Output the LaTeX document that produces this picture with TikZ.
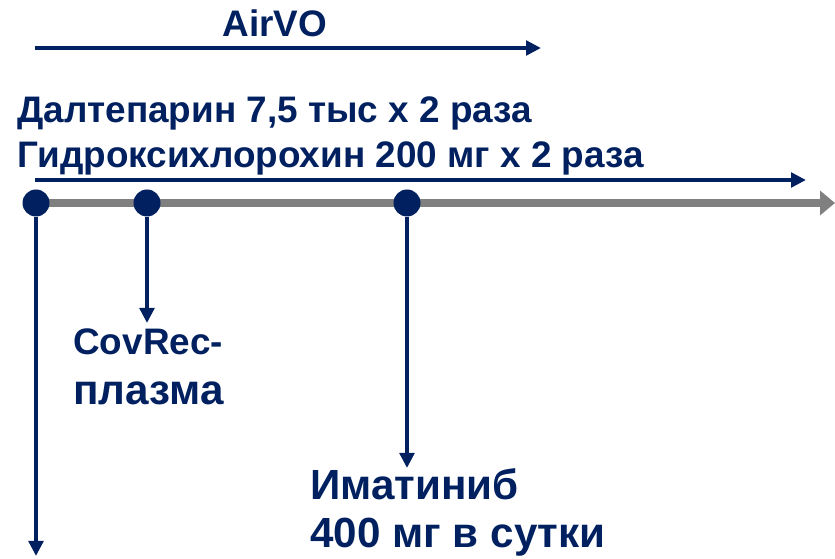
\documentclass[tikz,border=0pt]{standalone}
\usepackage{fontspec}
\setmainfont{Liberation Sans}
\usetikzlibrary{positioning,arrows.meta}
\definecolor{navy}{RGB}{0,32,96}
\definecolor{axisgray}{RGB}{128,128,128}

\begin{document}
\begin{tikzpicture}[
  font=\bfseries,
  navyarr/.style={draw=navy, line width=2.6pt, -{Triangle[length=0.3cm, width=0.29cm]}},
  axisarr/.style={draw=axisgray, line width=4.5pt, -{Triangle[length=0.3cm, width=0.48cm]}},
  dot/.style={circle, fill=navy, inner sep=0pt, minimum size=0.54cm},
  lbl/.style={anchor=base west, text=navy, inner sep=0pt, font=\bfseries\fontsize{21}{25}\selectfont},
  biglbl/.style={lbl, font=\bfseries\fontsize{24}{28}\selectfont},
]
\useasboundingbox (0,0) rectangle (16.7,-11.18);

% ---- AirVO ----
\node[lbl, anchor=base] (air) at (5.5,-0.74) {AirVO};
\coordinate (airS) at (0.7,-0.96);
\coordinate (airE) at (10.82,-0.96);
\draw[navyarr] (airS) -- (airE);

% ---- drugs over the whole period ----
\node[lbl] (dalt) at (0.34,-2.46) {Далтепарин 7,5 тыс х 2 раза};
\node[lbl] (hcq) at (0.34,-3.36) {Гидроксихлорохин 200 мг х 2 раза};
\coordinate (drS) at (0.7,-3.6);
\coordinate (drE) at (16.12,-3.6);
\draw[navyarr] (drS) -- (drE);

% ---- time axis ----
\coordinate (axS) at (0.7,-4.06);
\coordinate (axE) at (16.7,-4.06);
\draw[axisarr] (axS) -- (axE);

\node[dot] (d1) at (0.72,-4.06) {};
\node[dot] (d2) at (2.94,-4.06) {};
\node[dot] (d3) at (8.14,-4.06) {};

% ---- events ----
\coordinate (e1) at (0.72,-11.12);
\coordinate (e2) at (2.94,-6.46);
\coordinate (e3) at (8.14,-9.36);
\draw[navyarr] (d1) -- (e1);
\draw[navyarr] (d2) -- (e2);
\draw[navyarr] (d3) -- (e3);

\node[lbl] (covrec) at (1.46,-7.1) {CovRec-};
\node[biglbl] (plasma) at (1.46,-8.1) {плазма};
\node[biglbl] (imat) at (6.2,-10.0) {Иматиниб};
\node[biglbl] (dose) at (6.2,-10.96) {400 мг в сутки};

\end{tikzpicture}
\end{document}
